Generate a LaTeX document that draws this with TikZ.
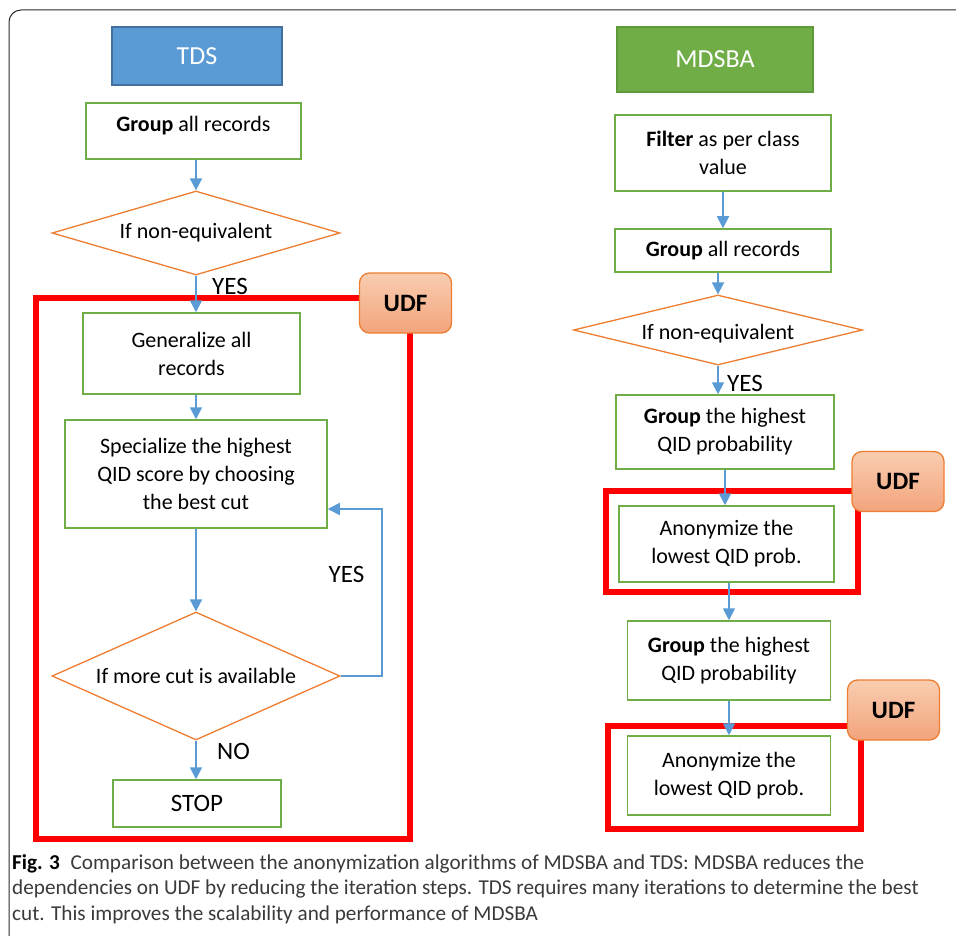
\documentclass[tikz,border=0pt]{standalone}
\usepackage{fontspec}
\setmainfont{Carlito}
\usetikzlibrary{shapes.geometric,arrows.meta}
\definecolor{tdsblue}{HTML}{5B9BD5}
\definecolor{tdsedge}{HTML}{41719C}
\definecolor{mdsgreen}{HTML}{70AD47}
\definecolor{mdsedge}{HTML}{5E9A3A}
\definecolor{boxgreen}{HTML}{70AD47}
\definecolor{condorange}{HTML}{ED7D31}
\definecolor{flowblue}{HTML}{5B9BD5}
\definecolor{udftop}{HTML}{F9CDB0}
\definecolor{udfbottom}{HTML}{F2A47C}
\definecolor{framegray}{HTML}{2B2B2B}
\definecolor{capgray}{HTML}{3A3A3A}

\begin{document}
\begin{tikzpicture}[x=1pt,y=-1pt,
                    stepbox/.style={draw=boxgreen,line width=1.5pt,align=center,inner sep=2pt,
                                    font=\fontsize{22}{28}\selectfont},
                    ifbox/.style={diamond,draw=condorange,line width=1.3pt,inner sep=0pt,
                                  font=\fontsize{22}{28}\selectfont},
                    headbox/.style={line width=1.5pt,text=white,font=\fontsize{26}{30}\selectfont},
                    udfbox/.style={draw=condorange,line width=1.3pt,rounded corners=10pt,
                                   top color=udftop,bottom color=udfbottom,
                                   minimum width=92pt,minimum height=60pt,
                                   font=\fontsize{25}{30}\selectfont\bfseries},
                    flow/.style={draw=flowblue,line width=1.8pt,-{Triangle[length=12pt,width=12pt]}},
                    udfframe/.style={draw=red,line width=6pt},
                    yesno/.style={inner sep=0pt,font=\fontsize{25}{30}\selectfont}]
                        \useasboundingbox (0,0) rectangle (956,936);
                        \draw [framegray,line width=1pt,rounded corners=12pt] (9,10) rectangle (990,950);
                        \draw [udfframe] (35.5,297.5) rectangle (409.5,839);
                        \draw [udfframe] (605.5,491) rectangle (858,592);
                        \draw [udfframe] (607.5,726) rectangle (861,828.5);
                        \node [headbox,fill=tdsblue,draw=tdsedge,minimum width=170pt,minimum height=58pt] (tds) at (197,56) {TDS};
                        \node [headbox,fill=mdsgreen,draw=mdsedge,minimum width=196pt,minimum height=65pt] (mdsba) at (715,59.5) {MDSBA};
                        \node [stepbox,minimum width=215pt,minimum height=56pt,text depth=14pt] (grpall) at (193.5,131) {\textbf{Group} all records};
                        \node [ifbox,aspect=3.4,minimum width=288pt,minimum height=84pt] (neq) at (196,233) {If non-equivalent};
                        \node [stepbox,minimum width=217pt,minimum height=81pt] (genall) at (191.5,353.5) {Generalize all\\records};
                        \node [stepbox,minimum width=262pt,minimum height=108pt] (spec) at (196,474) {Specialize the highest\\QID score by choosing\\the best cut};
                        \node [ifbox,aspect=2.25,minimum width=288pt,minimum height=128pt] (morecut) at (196,676) {If more cut is available};
                        \node [stepbox,font=\fontsize{25}{30}\selectfont,minimum width=168pt,minimum height=47pt] (stop) at (197,803.5) {STOP};
                        \node [stepbox,minimum width=216pt,minimum height=76pt] (filter) at (723,153) {\textbf{Filter} as per class\\value};
                        \node [stepbox,minimum width=216pt,minimum height=43pt] (grpallR) at (723,250.5) {\textbf{Group} all records};
                        \node [ifbox,aspect=4.1,minimum width=289pt,minimum height=70pt,text height=22pt] (neqR) at (718,330) {If non-equivalent};
                        \node [stepbox,minimum width=218pt,minimum height=74pt] (grphiA) at (725,432) {\textbf{Group} the highest\\QID probability};
                        \node [stepbox,minimum width=215pt,minimum height=76pt] (anonA) at (726.5,544) {Anonymize the\\lowest QID prob.};
                        \node [stepbox,minimum width=203pt,minimum height=79pt] (grphiB) at (729,660.5) {\textbf{Group} the highest\\QID probability};
                        \node [stepbox,minimum width=203pt,minimum height=79pt] (anonB) at (729,775.5) {Anonymize the\\lowest QID prob.};
                        \coordinate (loopturn) at (382,509);
                        \draw [flow] (neq.north |- grpall.south) -- (neq.north);
                        \draw [flow] (neq.south) -- (neq.south |- genall.north);
                        \draw [flow] (spec.north |- genall.south) -- (spec.north);
                        \draw [flow] (spec.south) -- (spec.south |- morecut.north);
                        \draw [flow] (morecut.east) -| (loopturn) -- (loopturn -| spec.east);
                        \draw [flow] (morecut.south) -- (morecut.south |- stop.north);
                        \draw [flow] (grpallR.north |- filter.south) -- (grpallR.north);
                        \draw [flow] (neqR.north |- grpallR.south) -- (neqR.north);
                        \draw [flow] (neqR.south) -- (neqR.south |- grphiA.north);
                        \draw [flow] (grphiA.south) -- (grphiA.south |- anonA.north);
                        \draw [flow] (grphiB.north |- anonA.south) -- (grphiB.north);
                        \draw [flow] (grphiB.south) -- (grphiB.south |- anonB.north);
                        \node [yesno] (yesA) at (230,286) {YES};
                        \node [yesno] (yesB) at (346.5,574) {YES};
                        \node [yesno] (noA) at (233.5,751.5) {NO};
                        \node [yesno] (yesC) at (745,383.5) {YES};
                        \node [udfbox] (udfA) at (405.5,303) {UDF};
                        \node [udfbox] (udfB) at (898,481.5) {UDF};
                        \node [udfbox] (udfC) at (893.5,710) {UDF};
                        \node [anchor=north west,align=left,inner sep=0pt,text=capgray,
                               font=\fontsize{21.2}{25.5}\selectfont] (caption) at (12,854)
                        {{\color{black}\textbf{Fig. 3}}\enspace Comparison between the anonymization algorithms of MDSBA and TDS: MDSBA reduces the\\
                         dependencies on UDF by reducing the iteration steps. TDS requires many iterations to determine the best\\
                         cut. This improves the scalability and performance of MDSBA};
                    \end{tikzpicture}
\end{document}
